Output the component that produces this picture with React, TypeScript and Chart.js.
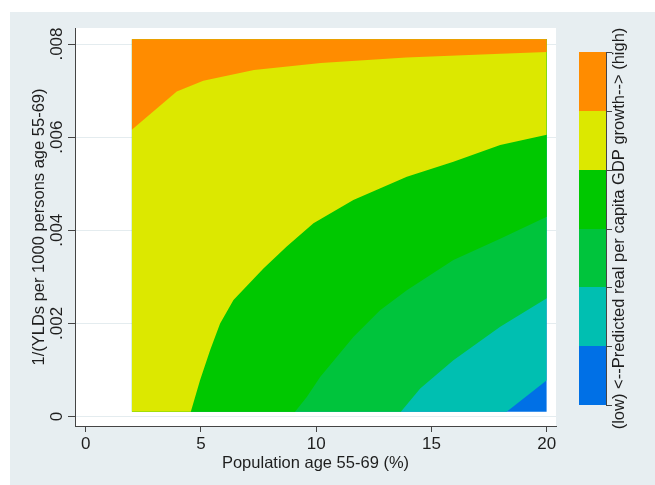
import React, { useEffect, useRef } from 'react';
import { Chart, registerables } from 'chart.js';

Chart.register(...registerables);

// Axis ticks
const xTickValues = [0, 5, 10, 15, 20];
const xTickLabels = ['0', '5', '10', '15', '20'];
const yTickValues = [0, 0.002, 0.004, 0.006, 0.008];
const yTickLabels = ['0', '.002', '.004', '.006', '.008'];

// Extent of the predicted grid
const gridXMin = 2;
const gridXMax = 20;
const gridYMin = 0.0001;
const gridYMax = 0.0081;

// Contour band colours, low -> high
const levelColors = ['#0070e6', '#00bfb1', '#00c43c', '#00c800', '#dce800', '#ff8c00'];

// Contour boundaries (lower edge of each band)
const baseX = [gridXMin, gridXMax];
const baseY = [gridYMin, gridYMin];

const contour1X = [2, 18.26, 20];
const contour1Y = [0.0001, 0.0001, 0.00078];

const contour2X = [2, 13.67, 14.51, 15.95, 17.98, 20];
const contour2Y = [0.0001, 0.0001, 0.0006, 0.00121, 0.00193, 0.00254];

const contour3X = [2, 9.08, 9.59, 10.17, 11.61, 12.77, 13.93, 15.95, 17.98, 20];
const contour3Y = [0.0001, 0.0001, 0.00042, 0.00085, 0.00171, 0.00228, 0.00271, 0.00336, 0.00382, 0.00429];

const contour4X = [2, 4.56, 4.96, 5.4, 5.83, 6.41, 7.71, 8.72, 9.88, 11.61, 13.93, 15.95, 17.98, 20];
const contour4Y = [0.0001, 0.0001, 0.00078, 0.00143, 0.002, 0.0025, 0.00318, 0.00365, 0.00415, 0.00465, 0.00515, 0.00547, 0.00583, 0.00605];

const contour5X = [2, 3.95, 5.1, 7.3, 10.2, 13.9, 18, 20];
const contour5Y = [0.00616, 0.00698, 0.00721, 0.00744, 0.00759, 0.00771, 0.00779, 0.00783];

const xTitle = 'Population age 55-69 (%)';
const yTitle = '1/(YLDs per 1000 persons age 55-69)';
const colorbarTitle = '(low) <--Predicted real per capita GDP growth--> (high)';

const FONT = "'Liberation Sans', Arial, Helvetica, sans-serif";
const TEXT = '#1e1e1e';
const AXIS = '#444444';

export default function App() {
  const ref = useRef<HTMLCanvasElement | null>(null);

  useEffect(() => {
    document.body.style.margin = '0';
    const canvas = ref.current;
    if (!canvas) return;

    const bands = [
      { color: levelColors[5], xs: contour5X, ys: contour5Y },
      { color: levelColors[4], xs: contour4X, ys: contour4Y },
      { color: levelColors[3], xs: contour3X, ys: contour3Y },
      { color: levelColors[2], xs: contour2X, ys: contour2Y },
      { color: levelColors[1], xs: contour1X, ys: contour1Y },
      { color: levelColors[0], xs: baseX, ys: baseY },
    ];

    const backgroundPlugin = {
      id: 'bg',
      beforeDraw(chart: any) {
        const { ctx, chartArea } = chart;
        ctx.save();
        ctx.fillStyle = '#ffffff';
        ctx.fillRect(0, 0, chart.width, chart.height);
        ctx.fillStyle = '#e7eef1';
        ctx.fillRect(10, 12, chart.width - 10, chart.height - 12);
        ctx.fillStyle = '#ffffff';
        ctx.fillRect(chartArea.left, chartArea.top, chartArea.right - chartArea.left, chartArea.bottom - chartArea.top);
        ctx.restore();
      },
    };

    const yLabelPlugin = {
      id: 'ylabels',
      afterDraw(chart: any) {
        const { ctx } = chart;
        const ys = chart.scales.y;
        ctx.save();
        ctx.fillStyle = TEXT;
        ctx.font = `17px ${FONT}`;
        ctx.textAlign = 'center';
        ctx.textBaseline = 'middle';
        yTickValues.forEach((v, i) => {
          const py = ys.getPixelForValue(v);
          ctx.save();
          ctx.translate(57, py);
          ctx.rotate(-Math.PI / 2);
          ctx.fillText(yTickLabels[i], 0, 0);
          ctx.restore();
        });
        ctx.restore();
      },
    };

    const colorbarPlugin = {
      id: 'colorbar',
      afterDraw(chart: any) {
        const { ctx } = chart;
        const left = 579;
        const right = 606;
        const top = 52;
        const bottom = 405;
        const n = levelColors.length;
        const h = (bottom - top) / n;
        ctx.save();
        levelColors.forEach((c, i) => {
          ctx.fillStyle = c;
          const y0 = bottom - (i + 1) * h;
          ctx.fillRect(left, Math.round(y0), right - left, Math.round(y0 + h) - Math.round(y0));
        });
        ctx.strokeStyle = AXIS;
        ctx.lineWidth = 1;
        ctx.beginPath();
        ctx.moveTo(right + 0.5, top);
        ctx.lineTo(right + 0.5, bottom);
        for (let i = 0; i <= n; i++) {
          const y = Math.round(bottom - i * h) + 0.5;
          ctx.moveTo(right, y);
          ctx.lineTo(right + 6, y);
        }
        ctx.stroke();
        ctx.fillStyle = TEXT;
        ctx.font = `16.5px ${FONT}`;
        ctx.textAlign = 'center';
        ctx.textBaseline = 'middle';
        ctx.translate(619, (top + bottom) / 2);
        ctx.rotate(-Math.PI / 2);
        ctx.fillText(colorbarTitle, 0, 0);
        ctx.restore();
      },
    };

    const chart = new Chart(canvas, {
      type: 'line',
      data: {
        datasets: bands.map((b) => ({
          data: b.xs.map((x, i) => ({ x, y: b.ys[i] })),
          borderWidth: 0,
          borderColor: b.color,
          backgroundColor: b.color,
          pointRadius: 0,
          pointHoverRadius: 0,
          tension: 0,
          fill: { value: gridYMax },
        })),
      },
      options: {
        animation: false,
        responsive: false,
        devicePixelRatio: 1,
        events: [],
        layout: { padding: { left: 0, right: 99, top: 28, bottom: 0 } },
        plugins: {
          legend: { display: false },
          tooltip: { enabled: false },
        },
        scales: {
          x: {
            type: 'linear',
            min: -0.464,
            max: 20.4,
            afterBuildTicks: (s: any) => {
              s.ticks = xTickValues.map((v) => ({ value: v }));
            },
            afterFit: (s: any) => {
              s.height = 59;
            },
            ticks: {
              callback: (_v: any, i: number) => xTickLabels[i],
              font: { family: FONT, size: 17 },
              color: TEXT,
              padding: 2,
              maxRotation: 0,
              minRotation: 0,
            },
            grid: { drawOnChartArea: false, tickLength: 6, tickColor: AXIS, tickWidth: 1 },
            border: { color: AXIS, width: 1 },
            title: {
              display: true,
              text: xTitle,
              font: { family: FONT, size: 16.5 },
              color: TEXT,
              padding: { top: 0, bottom: 12 },
            },
          },
          y: {
            type: 'linear',
            min: -0.000204,
            max: 0.008344,
            afterBuildTicks: (s: any) => {
              s.ticks = yTickValues.map((v) => ({ value: v }));
            },
            afterFit: (s: any) => {
              s.width = 75;
            },
            ticks: { display: false },
            grid: { color: '#e4ecef', lineWidth: 1, tickLength: 7, tickColor: AXIS, tickWidth: 1 },
            border: { color: AXIS, width: 1 },
            title: {
              display: true,
              text: yTitle,
              font: { family: FONT, size: 16.5 },
              color: TEXT,
              padding: { top: 29.6, bottom: 0 },
            },
          },
        },
      },
      plugins: [backgroundPlugin, yLabelPlugin, colorbarPlugin],
    } as any);

    return () => chart.destroy();
  }, []);

  return (
    <div style={{ width: 655, height: 485 }}>
      <canvas ref={ref} width={655} height={485} style={{ display: 'block' }} />
    </div>
  );
}
